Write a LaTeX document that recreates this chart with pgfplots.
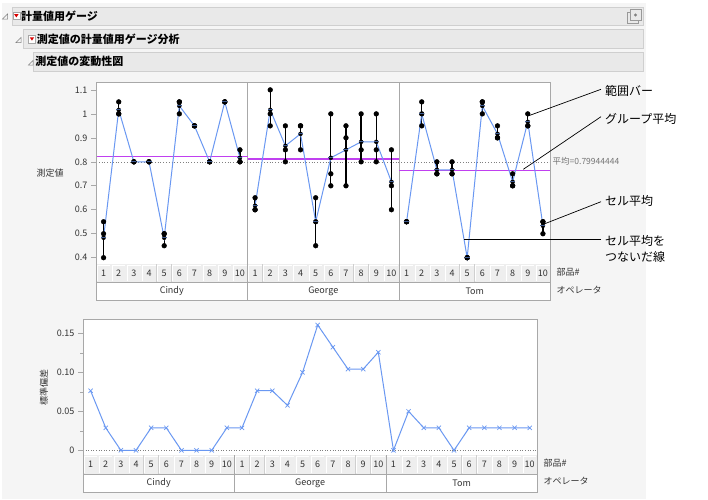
\documentclass[border=0pt]{standalone}
\usepackage{fontspec}
\setmainfont{Noto Sans CJK JP}
\usepackage{pgfplots}
\usepackage{pgfplotstable}
\pgfplotsset{compat=1.18}
\definecolor{bg}{HTML}{F5F5F5}
\definecolor{hdr}{HTML}{E9E9E9}
\definecolor{hdrline}{HTML}{CFCFCF}
\definecolor{frm}{HTML}{A8A8A8}
\definecolor{cellc}{HTML}{EEEEEE}
\definecolor{jblue}{HTML}{6A98F2}
\definecolor{jmag}{HTML}{C040F0}
\definecolor{txt}{HTML}{333333}

% operator parts: x = position (Cindy 1-10, George 11-20, Tom 21-30)
\pgfplotstableread{
x m1 m2 m3 mean sd
1 0.40 0.50 0.55 0.4833 0.0764
2 1.00 1.00 1.05 1.0167 0.0289
3 0.80 0.80 0.80 0.8000 0
4 0.80 0.80 0.80 0.8000 0
5 0.45 0.50 0.50 0.4833 0.0289
6 1.00 1.05 1.05 1.0333 0.0289
7 0.95 0.95 0.95 0.9500 0
8 0.80 0.80 0.80 0.8000 0
9 1.05 1.05 1.05 1.0500 0
10 0.80 0.80 0.85 0.8167 0.0289
11 0.60 0.60 0.65 0.6167 0.0289
12 0.95 1.00 1.10 1.0167 0.0764
13 0.80 0.85 0.95 0.8667 0.0764
14 0.85 0.95 0.95 0.9167 0.0577
15 0.45 0.55 0.65 0.5500 0.1000
16 0.70 0.75 1.00 0.8167 0.1607
17 0.70 0.90 0.95 0.8500 0.1323
18 0.80 0.85 1.00 0.8833 0.1041
19 0.80 0.85 1.00 0.8833 0.1041
20 0.60 0.70 0.85 0.7167 0.1258
21 0.55 0.55 0.55 0.5500 0
22 0.95 1.00 1.05 1.0000 0.0500
23 0.75 0.75 0.80 0.7667 0.0289
24 0.75 0.75 0.80 0.7667 0.0289
25 0.40 0.40 0.40 0.4000 0
26 1.00 1.05 1.05 1.0333 0.0289
27 0.90 0.90 0.95 0.9167 0.0289
28 0.70 0.70 0.75 0.7167 0.0289
29 0.95 0.95 1.00 0.9667 0.0289
30 0.50 0.55 0.55 0.5333 0.0289
}\gauge

\newcommand{\chartfont}{\fontsize{9}{10}\selectfont}

% #1 left, #2 cell width, #3 row1 top, #4 row1 bottom, #5 row2 bottom
\newcommand{\cellrows}[5]{%
  \fill[white] (#1,-#4) rectangle ({#1+30*#2},-#5);
  \foreach \i in {0,...,29}{%
    \pgfmathsetmacro\xa{#1+\i*#2}%
    \pgfmathsetmacro\xb{\xa+#2}%
    \pgfmathsetmacro\xm{\xa+#2/2}%
    \pgfmathsetmacro\ym{(#3+#4)/2}%
    \pgfmathtruncatemacro\lab{mod(\i,10)+1}%
    \fill[cellc] (\xa,-#3) rectangle (\xb,-#4);
    \draw[white, line width=0.8pt] (\xa+0.9,-#4+0.9) -- (\xa+0.9,-#3-0.9) -- (\xb-0.9,-#3-0.9);
    \draw[hdrline, line width=0.6pt] (\xb,-#3) -- (\xb,-#4);
    \node[font=\chartfont, text=txt, inner sep=0pt] at (\xm,-\ym) {\lab};
  }
  \draw[frm, line width=0.6pt] (#1,-#4) -- ({#1+30*#2},-#4);
  \pgfmathsetmacro\ymo{(#4+#5)/2}%
  \node[font=\chartfont, text=txt] at ({#1+5*#2},-\ymo) {Cindy};
  \node[font=\chartfont, text=txt] at ({#1+15*#2},-\ymo) {George};
  \node[font=\chartfont, text=txt] at ({#1+25*#2},-\ymo) {Tom};
}

\begin{document}
\begin{tikzpicture}[x=1pt,y=1pt]
\path[use as bounding box, fill=white] (0,0) rectangle (708,-499);
\fill[bg] (2,-3.3) rectangle (646,-499);

% headers
\filldraw[fill=hdr, draw=hdrline] (11.7,-7.3) rectangle (643,-25.3);
\filldraw[fill=hdr, draw=hdrline] (22.7,-29.3) rectangle (643,-48.3);
\filldraw[fill=hdr, draw=hdrline] (33.3,-52.3) rectangle (643,-71);
% disclosure triangles
\draw[gray, line width=0.5pt] (2.5,-19) -- (7.5,-19) -- (7.5,-14) -- cycle;
\draw[gray, line width=0.5pt] (16,-42.5) -- (21,-42.5) -- (21,-37.5) -- cycle;
\draw[gray, line width=0.5pt] (28.5,-65) -- (33,-65) -- (33,-60.5) -- cycle;
% red menu icons
\filldraw[fill=white, draw=gray!70] (12.7,-11.8) rectangle (20,-19.6);
\fill[red!85!black] (14.2,-14.2) -- (18.5,-14.2) -- (16.35,-17.4) -- cycle;
\filldraw[fill=white, draw=gray!70] (28.3,-35) rectangle (35.6,-42.8);
\fill[red!85!black] (29.8,-37.4) -- (34.1,-37.4) -- (31.95,-40.6) -- cycle;
% header texts
\node[anchor=west, font=\fontsize{11}{12}\selectfont\bfseries, inner sep=0pt] at (21,-16.3) {計量値用ゲージ};
\node[anchor=west, font=\fontsize{11}{12}\selectfont\bfseries, inner sep=0pt] at (36.6,-38.8) {測定値の計量値用ゲージ分析};
\node[anchor=west, font=\fontsize{11}{12}\selectfont\bfseries, inner sep=0pt] at (35.2,-61.7) {測定値の変動性図};
% right icon
\draw[gray!80, line width=0.7pt] (627,-12.5) rectangle (638,-23.5);
\filldraw[fill=hdr, draw=gray!80, line width=0.7pt] (630,-9.5) rectangle (641,-20.5);
\fill[gray] (635.5,-15) circle (1.7);

% ===== top chart =====
\begin{axis}[
  at={(96pt,-82.7pt)}, anchor=north west,
  scale only axis, width=454.5pt, height=181.3pt,
  xmin=0.5, xmax=30.5, ymin=0.3737, ymax=1.130,
  xtick=\empty,
  ytick={0.4,0.5,0.6,0.7,0.8,0.9,1.0,1.1},
  yticklabels={0.4,0.5,0.6,0.7,0.8,0.9,1,1.1},
  ytick pos=left, tick align=outside, major tick length=5pt,
  axis line style={frm, line width=0.6pt}, tick style={frm, line width=0.6pt},
  yticklabel style={font=\chartfont, text=txt, /pgf/number format/assume math mode=true},
  axis background/.style={fill=white},
  extra x ticks={10.5,20.5}, extra x tick labels={},
  extra x tick style={grid=major, major grid style={frm, line width=0.6pt}, major tick length=0pt},
]
\addplot[gray, dotted, line width=0.8pt] coordinates {(0.5,0.79944) (30.5,0.79944)};
\addplot[jmag, line width=1.2pt] coordinates {(0.5,0.8233) (10.5,0.8233)};
\addplot[jmag, line width=1.2pt] coordinates {(10.5,0.8117) (20.5,0.8117)};
\addplot[jmag, line width=1.2pt] coordinates {(20.5,0.7650) (30.5,0.7650)};
\addplot[black, only marks, mark=none, error bars/.cd, y dir=both, y explicit, error mark=none,
  error bar style={black, line width=1.3pt}]
  table[x=x, y=mean, y error plus expr={\thisrow{m3}-\thisrow{mean}}, y error minus expr={\thisrow{mean}-\thisrow{m1}}]{\gauge};
\addplot[jblue, line width=1pt, restrict x to domain=0:10.9] table[x=x,y=mean]{\gauge};
\addplot[jblue, line width=1pt, restrict x to domain=10.9:20.9] table[x=x,y=mean]{\gauge};
\addplot[jblue, line width=1pt, restrict x to domain=20.9:31] table[x=x,y=mean]{\gauge};
\addplot[only marks, mark=*, mark size=2.4pt, black] table[x=x,y=m1]{\gauge};
\addplot[only marks, mark=*, mark size=2.4pt, black] table[x=x,y=m2]{\gauge};
\addplot[only marks, mark=*, mark size=2.4pt, black] table[x=x,y=m3]{\gauge};
\addplot[only marks, mark=-, mark size=2.5pt, jblue!60!black, mark options={line width=0.8pt}] table[x=x,y=mean]{\gauge};
\end{axis}
\cellrows{96}{15.15}{264}{282}{300}
\draw[frm, line width=0.6pt] (247.5,-264) -- (247.5,-300);
\draw[frm, line width=0.6pt] (399,-264) -- (399,-300);
\draw[frm, line width=0.6pt] (96,-82.7) rectangle (550.5,-300);
\node[font=\chartfont, text=txt] at (50,-173) {測定値};
\node[font=\chartfont, text=txt, anchor=west] at (553,-272) {部品\#};
\node[font=\chartfont, text=txt, anchor=west] at (553,-290) {オペレータ};
\node[font=\fontsize{8.5}{9}\selectfont, text=gray!90!black, anchor=west, inner sep=0pt] at (552.5,-161) {平均=0.79944444};

% annotations
\draw[black, line width=0.7pt] (601,-89.3) -- (529.3,-115.5);
\draw[black, line width=0.7pt] (601,-116.7) -- (523.3,-169.3);
\draw[black, line width=0.7pt] (601,-201.7) -- (543.3,-224.3);
\draw[black, line width=0.7pt] (601,-239.3) -- (464,-239.3);
\node[anchor=west, font=\fontsize{12}{13}\selectfont, inner sep=0pt] at (605,-90.7) {範囲バー};
\node[anchor=west, font=\fontsize{12}{13}\selectfont, inner sep=0pt] at (605,-119.3) {グループ平均};
\node[anchor=west, font=\fontsize{12}{13}\selectfont, inner sep=0pt] at (605,-200.7) {セル平均};
\node[anchor=west, font=\fontsize{12}{13}\selectfont, inner sep=0pt] at (605,-241) {セル平均を};
\node[anchor=west, font=\fontsize{12}{13}\selectfont, inner sep=0pt] at (605,-257) {つないだ線};

% ===== bottom chart =====
\begin{axis}[
  at={(83pt,-319.3pt)}, anchor=north west,
  scale only axis, width=454.3pt, height=135.7pt,
  xmin=0.5, xmax=30.5, ymin=-0.006, ymax=0.168,
  xtick=\empty,
  ytick={0,0.05,0.10,0.15},
  yticklabels={0,0.05,0.10,0.15},
  minor ytick={0.025,0.075,0.125},
  ytick pos=left, tick align=outside, major tick length=5pt, minor tick length=3pt,
  axis line style={frm, line width=0.6pt}, tick style={frm, line width=0.6pt},
  yticklabel style={font=\chartfont, text=txt, /pgf/number format/assume math mode=true},
  axis background/.style={fill=white},
]
\addplot[gray, dotted, line width=0.6pt] coordinates {(0.5,0) (30.5,0)};
\addplot[jblue, line width=1pt, mark=x, mark size=3pt, mark options={solid, line width=0.7pt}] table[x=x,y=sd]{\gauge};
\end{axis}
\cellrows{83}{15.143}{455}{474}{492}
\draw[frm, line width=0.6pt] (234.4,-455) -- (234.4,-492);
\draw[frm, line width=0.6pt] (385.9,-455) -- (385.9,-492);
\draw[frm, line width=0.6pt] (83,-319.3) rectangle (537.3,-492);
\node[font=\chartfont, text=txt, rotate=90] at (44,-387) {標準偏差};
\node[font=\chartfont, text=txt, anchor=west] at (540,-463) {部品\#};
\node[font=\chartfont, text=txt, anchor=west] at (540,-481) {オペレータ};
\end{tikzpicture}
\end{document}
